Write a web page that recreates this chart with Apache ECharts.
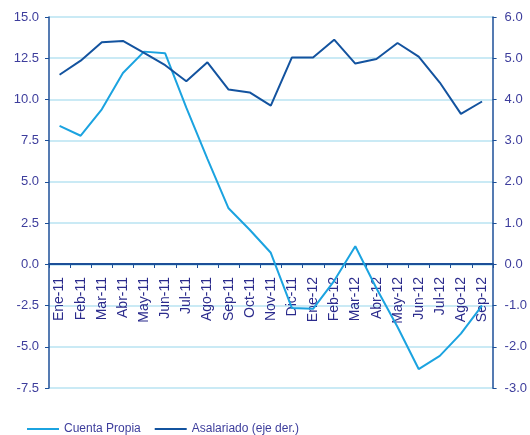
<!DOCTYPE html>
<html>
<head>
<meta charset="utf-8">
<script src="https://cdn.jsdelivr.net/npm/echarts@6/dist/echarts.min.js"></script>
<style>
  html, body { margin: 0; padding: 0; background: #fff; }
  #chart { width: 530px; height: 435px; }
</style>
</head>
<body>
<div id="chart"></div>
<script>
// meses
const categorias = ['Ene-11', 'Feb-11', 'Mar-11', 'Abr-11', 'May-11', 'Jun-11', 'Jul-11', 'Ago-11', 'Sep-11', 'Oct-11', 'Nov-11', 'Dic-11',
  'Ene-12', 'Feb-12', 'Mar-12', 'Abr-12', 'May-12', 'Jun-12', 'Jul-12', 'Ago-12', 'Sep-12'];
// eje izquierdo
const cuentaPropia = [8.4, 7.8, 9.4, 11.6, 12.9, 12.8, 9.5, 6.4, 3.4, 2.1, 0.7, -2.65,
  -2.7, -1.0, 1.1, -1.45, -3.8, -6.35, -5.55, -4.2, -2.5];
// eje derecho
const asalariado = [4.6, 4.94, 5.39, 5.42, 5.13, 4.83, 4.44, 4.9, 4.24, 4.17, 3.85, 5.02,
  5.02, 5.45, 4.87, 4.98, 5.37, 5.04, 4.41, 3.65, 3.95];
const nombres = ['Cuenta Propia', 'Asalariado (eje der.)'];

const colorTexto = '#3d3d9c';
const colorEje = '#1c4f98';
const colorGrid = '#b8e3f2';
const fuente = 'Liberation Sans, Arial';

const chart = echarts.init(document.getElementById('chart'));
const option = {
  animation: false,
  grid: [
    { left: 49, right: 37, top: 17, bottom: 47 },
    // la mitad superior: su borde inferior es la linea del cero
    { left: 49, right: 37, top: 17, bottom: 171 }
  ],
  legend: {
    bottom: -5,
    left: 22,
    itemWidth: 32,
    itemHeight: 2,
    itemGap: 14,
    icon: 'rect',
    textStyle: { color: colorTexto, fontSize: 12, fontFamily: fuente },
    data: nombres
  },
  xAxis: [
    {
      type: 'category',
      gridIndex: 0,
      data: categorias,
      boundaryGap: true,
      axisLine: { show: false },
      axisTick: { show: false },
      axisLabel: { show: false },
      splitLine: { show: false }
    },
    {
      type: 'category',
      gridIndex: 1,
      data: categorias,
      boundaryGap: true,
      axisLine: { show: true, onZero: false, lineStyle: { color: colorEje, width: 2 } },
      axisTick: { show: true, inside: false, length: 4, lineStyle: { color: colorEje } },
      axisLabel: { rotate: 90, color: '#2b2b8c', fontSize: 14, margin: 13, interval: 0, fontFamily: fuente },
      splitLine: { show: false }
    }
  ],
  yAxis: [
    {
      type: 'value',
      gridIndex: 0,
      min: -7.5, max: 15, interval: 2.5,
      axisLine: { show: true, lineStyle: { color: colorEje, width: 1.5 } },
      axisTick: { show: true, length: 4, lineStyle: { color: colorEje } },
      axisLabel: { color: colorTexto, fontSize: 13, margin: 10, formatter: v => v.toFixed(1), fontFamily: fuente },
      splitLine: { show: true, lineStyle: { color: colorGrid, width: 1.5 } }
    },
    {
      type: 'value',
      gridIndex: 0,
      min: -3, max: 6, interval: 1,
      position: 'right',
      axisLine: { show: true, lineStyle: { color: colorEje, width: 1.5 } },
      axisTick: { show: true, length: 4, lineStyle: { color: colorEje } },
      axisLabel: { color: colorTexto, fontSize: 13, margin: 12, formatter: v => v.toFixed(1), fontFamily: fuente },
      splitLine: { show: false }
    },
    {
      type: 'value',
      gridIndex: 1,
      show: false
    }
  ],
  series: [
    {
      name: nombres[0],
      type: 'line',
      xAxisIndex: 0,
      yAxisIndex: 0,
      data: cuentaPropia,
      symbol: 'none',
      lineStyle: { color: '#1ba3e0', width: 2 },
      itemStyle: { color: '#1ba3e0' }
    },
    {
      name: nombres[1],
      type: 'line',
      xAxisIndex: 0,
      yAxisIndex: 1,
      data: asalariado,
      symbol: 'none',
      lineStyle: { color: '#13539f', width: 2 },
      itemStyle: { color: '#13539f' }
    }
  ]
};
chart.setOption(option);
</script>
</body>
</html>
